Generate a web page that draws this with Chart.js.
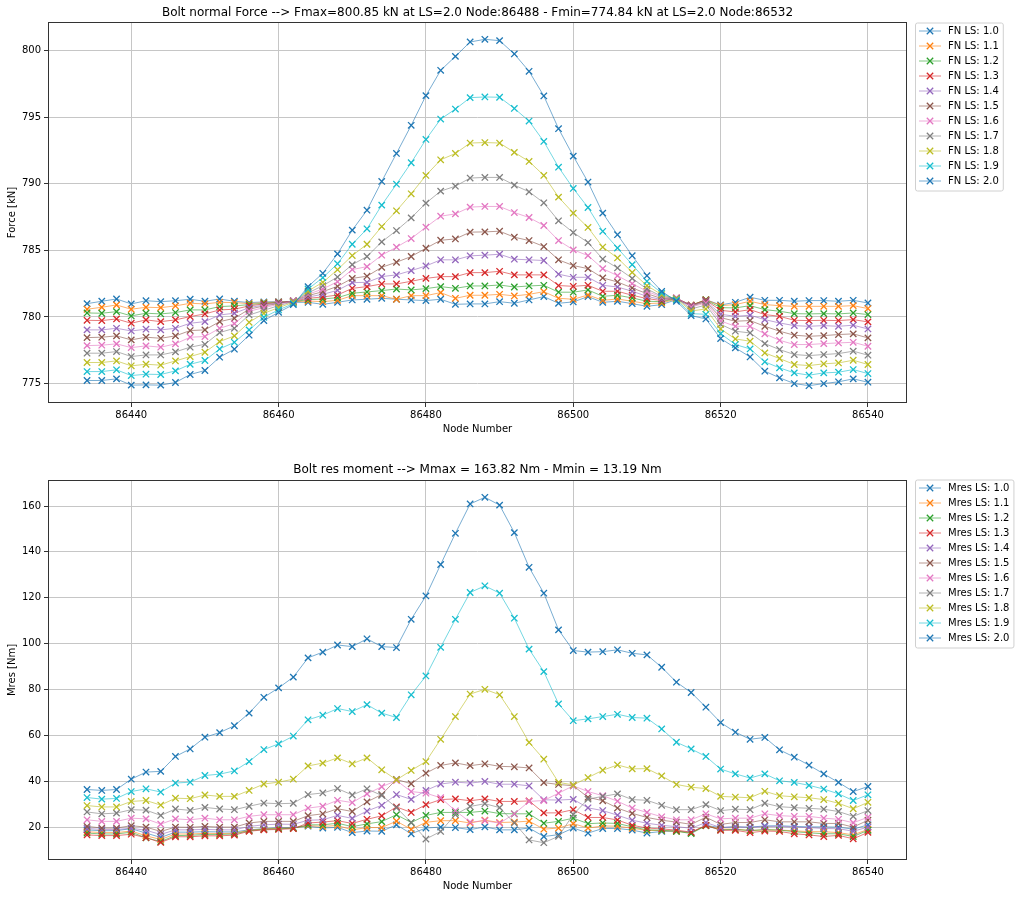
<!DOCTYPE html>
<html>
<head>
<meta charset="utf-8">
<title>Bolt forces</title>
<script src="https://cdn.jsdelivr.net/npm/chart.js@4"></script>
<style>
  html, body { margin: 0; padding: 0; background: #fff; }
  #wrap { position: relative; width: 1024px; height: 899px; }
  canvas { position: absolute; left: 0; }
  #force-chart { top: 0; }
  #moment-chart { top: 450px; }
</style>
</head>
<body>
<div id="wrap">
  <canvas id="force-chart" width="1024" height="450"></canvas>
  <canvas id="moment-chart" width="1024" height="449"></canvas>
</div>
<script>
// ---- data ----
const nodes = [86434, 86436, 86438, 86440, 86442, 86444, 86446, 86448, 86450, 86452, 86454, 86456, 86458, 86460, 86462, 86464, 86466, 86468,
    86470, 86472, 86474, 86476, 86478, 86480, 86482, 86484, 86486, 86488, 86490, 86492, 86494, 86496, 86498, 86500, 86502, 86504,
    86506, 86508, 86510, 86512, 86514, 86516, 86518, 86520, 86522, 86524, 86526, 86528, 86530, 86532, 86534, 86536, 86538, 86540];

const loadSteps = ['1.0', '1.1', '1.2', '1.3', '1.4', '1.5', '1.6', '1.7', '1.8', '1.9', '2.0'];

const xTicks = [86440, 86460, 86480, 86500, 86520, 86540];
const forceTicks = [775, 780, 785, 790, 795, 800];
const momentTicks = [20, 40, 60, 80, 100, 120, 140, 160];

// normal force [kN] per load step
const fn10 = [781.0, 781.18, 781.35, 780.98, 781.22, 781.15, 781.22, 781.33, 781.18, 781.35, 781.18, 781.08, 781.13, 781.15, 781.1, 781.1, 780.95, 781.1,
    781.28, 781.33, 781.4, 781.33, 781.28, 781.23, 781.33, 780.95, 780.98, 780.98, 781.15, 781.03, 781.28, 781.53, 781.03, 781.13, 781.53, 781.1,
    781.18, 781.0, 780.8, 780.93, 781.3, 780.85, 781.3, 780.9, 781.1, 781.48, 781.25, 781.25, 781.18, 781.23, 781.23, 781.18, 781.25, 781.05];
const fn11 = [780.58, 780.73, 780.9, 780.58, 780.73, 780.7, 780.83, 781.03, 780.98, 781.1, 781.08, 781.0, 781.08, 781.13, 781.13, 781.2, 781.15, 781.25,
    781.6, 781.6, 781.6, 781.33, 781.6, 781.6, 781.83, 781.4, 781.63, 781.63, 781.7, 781.58, 781.7, 781.9, 781.4, 781.33, 781.65, 781.25,
    781.35, 781.18, 781.0, 781.05, 781.35, 780.88, 781.3, 780.85, 780.93, 781.18, 780.93, 780.85, 780.8, 780.8, 780.8, 780.8, 780.85, 780.63];
const fn12 = [780.3, 780.28, 780.4, 780.08, 780.28, 780.23, 780.33, 780.53, 780.53, 780.78, 780.83, 780.93, 781.03, 781.1, 781.15, 781.3, 781.35, 781.45,
    781.78, 781.88, 781.98, 782.1, 782.03, 782.13, 782.28, 782.15, 782.33, 782.33, 782.4, 782.25, 782.33, 782.38, 781.86, 781.86, 782.03, 781.55,
    781.63, 781.43, 781.18, 781.15, 781.38, 780.88, 781.28, 780.7, 780.68, 780.85, 780.55, 780.43, 780.25, 780.23, 780.25, 780.23, 780.3, 780.18];
const fn13 = [779.75, 779.73, 779.85, 779.53, 779.78, 779.65, 779.78, 780.03, 780.23, 780.53, 780.58, 780.83, 780.98, 781.08, 781.18, 781.4, 781.5, 781.65,
    782.15, 782.28, 782.48, 782.48, 782.68, 782.9, 783.03, 783.03, 783.33, 783.33, 783.43, 783.16, 783.16, 783.16, 782.36, 782.3, 782.38, 781.93,
    781.93, 781.63, 781.38, 781.23, 781.4, 780.88, 781.25, 780.5, 780.38, 780.55, 780.18, 780.05, 779.75, 779.73, 779.75, 779.73, 779.8, 779.63];
const fn14 = [779.03, 779.03, 779.15, 778.95, 779.08, 779.03, 779.15, 779.53, 779.65, 780.15, 780.28, 780.7, 780.9, 781.05, 781.2, 781.5, 781.7, 782.0,
    782.58, 782.6, 783.03, 783.16, 783.48, 783.83, 784.29, 784.29, 784.59, 784.64, 784.71, 784.34, 784.29, 784.24, 783.21, 782.98, 782.98, 782.38,
    782.25, 781.93, 781.55, 781.3, 781.42, 780.85, 781.2, 780.2, 780.05, 780.13, 779.8, 779.55, 779.35, 779.3, 779.35, 779.3, 779.38, 779.1];
const fn15 = [778.45, 778.48, 778.58, 778.28, 778.48, 778.4, 778.58, 778.98, 779.03, 779.65, 779.9, 780.58, 780.83, 781.0, 781.22, 781.6, 781.9, 782.3,
    782.9, 783.06, 783.73, 784.11, 784.54, 785.16, 785.76, 785.86, 786.37, 786.39, 786.44, 785.99, 785.74, 785.29, 784.29, 783.86, 783.63, 782.93,
    782.63, 782.18, 781.75, 781.38, 781.42, 780.8, 781.15, 779.95, 779.68, 779.73, 779.3, 778.93, 778.63, 778.55, 778.6, 778.68, 778.73, 778.43];
const fn16 = [777.85, 777.88, 777.98, 777.7, 777.83, 777.73, 777.98, 778.48, 778.53, 779.15, 779.5, 780.43, 780.7, 780.95, 781.2, 781.7, 782.1, 782.65,
    783.56, 783.78, 784.64, 785.24, 785.89, 786.74, 787.57, 787.74, 788.25, 788.3, 788.3, 787.84, 787.47, 786.87, 785.74, 785.04, 784.61, 783.63,
    783.1, 782.5, 781.93, 781.48, 781.45, 780.75, 781.05, 779.7, 779.3, 779.3, 778.73, 778.25, 777.93, 777.93, 778.0, 778.05, 778.1, 777.8];
const fn17 = [777.28, 777.28, 777.4, 777.03, 777.15, 777.15, 777.38, 777.73, 777.95, 778.83, 779.15, 780.15, 780.5, 780.85, 781.15, 781.8, 782.35, 783.0,
    783.93, 784.54, 785.64, 786.49, 787.44, 788.55, 789.45, 789.82, 790.43, 790.48, 790.48, 789.9, 789.4, 788.57, 787.22, 786.34, 785.59, 784.35,
    783.68, 782.9, 782.1, 781.55, 781.4, 780.6, 780.9, 779.45, 778.93, 778.8, 778.0, 777.55, 777.18, 777.1, 777.18, 777.25, 777.43, 777.13];
const fn18 = [776.58, 776.58, 776.7, 776.33, 776.45, 776.38, 776.7, 777.03, 777.35, 778.15, 778.58, 779.6, 780.28, 780.7, 781.1, 781.95, 782.6, 783.55,
    784.61, 785.46, 786.79, 787.97, 789.25, 790.63, 791.8, 792.28, 793.06, 793.1, 793.06, 792.36, 791.68, 790.63, 789.0, 787.8, 786.72, 785.25,
    784.43, 783.35, 782.35, 781.68, 781.35, 780.45, 780.6, 779.1, 778.35, 778.18, 777.3, 776.88, 776.43, 776.35, 776.48, 776.55, 776.75, 776.43];
const fn19 = [775.9, 775.9, 776.03, 775.6, 775.7, 775.68, 775.95, 776.45, 776.73, 777.6, 778.1, 779.03, 779.98, 780.53, 781.0, 782.1, 782.95, 784.0,
    785.46, 786.62, 788.4, 789.97, 791.58, 793.33, 794.86, 795.61, 796.47, 796.52, 796.5, 795.66, 794.71, 793.18, 791.25, 789.65, 788.22, 786.43,
    785.18, 783.93, 782.68, 781.8, 781.28, 780.25, 780.2, 778.75, 777.93, 777.6, 776.63, 776.18, 775.8, 775.63, 775.8, 775.85, 776.05, 775.75];
const fn20 = [775.23, 775.23, 775.35, 774.88, 774.9, 774.88, 775.08, 775.68, 775.98, 776.98, 777.58, 778.63, 779.73, 780.35, 780.93, 782.28, 783.28, 784.74,
    786.52, 788.02, 790.18, 792.28, 794.39, 796.62, 798.52, 799.57, 800.65, 800.85, 800.75, 799.75, 798.45, 796.6, 794.14, 792.08, 790.13, 787.8,
    786.18, 784.6, 783.1, 781.93, 781.18, 780.1, 779.85, 778.38, 777.68, 777.0, 775.93, 775.43, 775.0, 774.84, 775.0, 775.13, 775.35, 775.1];

// resultant moment [Nm] per load step
const mr10 = [18.8, 18.4, 18.5, 19.3, 17.4, 15.5, 17.8, 17.8, 18.0, 17.9, 17.9, 18.8, 19.3, 19.8, 19.8, 20.4, 19.6, 19.9,
    17.6, 18.3, 18.2, 21.0, 17.1, 19.6, 20.0, 19.8, 18.9, 20.1, 18.8, 18.8, 19.6, 15.9, 16.7, 19.6, 17.4, 19.4,
    19.4, 18.7, 17.4, 18.1, 18.3, 17.6, 20.7, 19.8, 20.1, 20.0, 20.5, 20.6, 20.3, 20.1, 20.1, 20.0, 19.1, 21.0];
const mr11 = [18.0, 17.6, 17.6, 18.3, 16.2, 14.6, 17.0, 17.0, 17.3, 17.2, 17.3, 18.6, 19.2, 19.5, 19.6, 20.6, 20.3, 20.7,
    18.8, 19.8, 19.8, 22.6, 19.0, 22.1, 22.8, 22.8, 21.8, 23.0, 22.0, 22.2, 22.6, 19.1, 19.6, 21.5, 19.6, 20.5,
    20.4, 19.5, 18.6, 18.5, 18.2, 17.5, 20.7, 19.1, 19.1, 18.5, 18.8, 18.7, 18.4, 18.0, 18.0, 17.6, 16.6, 19.0];
const mr12 = [17.4, 17.0, 17.0, 17.8, 15.3, 13.7, 16.3, 16.4, 16.8, 16.8, 17.0, 18.4, 19.0, 19.3, 19.5, 21.0, 21.0, 21.7,
    20.2, 21.4, 22.4, 25.4, 22.0, 25.1, 26.4, 26.4, 26.4, 27.0, 25.9, 25.8, 25.8, 21.7, 22.5, 23.9, 21.5, 21.8,
    21.6, 20.1, 18.8, 18.6, 18.2, 17.2, 20.6, 18.8, 19.0, 18.5, 18.9, 18.7, 18.0, 17.5, 17.1, 17.1, 15.9, 18.6];
const mr13 = [16.6, 16.3, 16.3, 16.9, 15.4, 13.3, 15.8, 15.8, 16.2, 16.2, 16.5, 18.2, 18.8, 19.0, 19.3, 21.8, 22.2, 22.8,
    21.6, 23.4, 24.9, 28.8, 26.4, 29.8, 32.0, 32.3, 31.5, 32.3, 31.2, 31.2, 31.4, 26.2, 26.2, 27.6, 24.2, 24.2,
    23.1, 20.8, 19.6, 19.2, 18.7, 17.8, 20.8, 18.6, 18.6, 17.6, 18.3, 18.1, 17.1, 16.6, 15.9, 16.4, 14.9, 17.7];
const mr14 = [19.4, 19.0, 19.0, 19.5, 18.6, 16.8, 18.8, 18.8, 19.0, 18.8, 18.8, 20.3, 21.0, 21.3, 21.2, 23.0, 23.2, 25.1,
    23.8, 27.0, 29.5, 34.2, 32.1, 36.0, 38.8, 39.6, 39.2, 39.9, 38.7, 38.7, 38.0, 31.9, 31.8, 32.1, 28.4, 27.2,
    25.2, 23.0, 21.7, 20.8, 20.2, 19.5, 22.0, 19.8, 20.2, 19.8, 20.3, 20.3, 20.0, 19.8, 19.4, 19.3, 18.2, 20.0];
const mr15 = [20.3, 19.6, 19.6, 20.6, 20.0, 18.1, 20.0, 19.9, 20.3, 20.0, 20.0, 21.8, 22.5, 22.5, 22.5, 25.0, 25.8, 28.0,
    26.8, 31.0, 34.2, 40.8, 38.9, 43.5, 46.9, 48.0, 46.8, 47.6, 46.5, 46.3, 45.8, 39.4, 38.6, 38.0, 33.0, 31.5,
    28.3, 26.0, 24.2, 23.0, 22.2, 21.2, 24.3, 21.2, 22.0, 22.0, 23.2, 22.3, 22.3, 22.3, 21.6, 21.6, 20.0, 23.0];
const mr16 = [23.2, 22.5, 22.5, 23.9, 23.6, 21.3, 23.6, 23.2, 23.9, 23.2, 23.2, 24.7, 25.4, 25.4, 25.4, 28.3, 29.1, 31.7,
    30.7, 34.5, 37.6, 40.3, 35.5, 34.8, 32.8, 27.1, 22.2, 22.8, 21.7, 25.8, 31.2, 31.6, 34.8, 38.0, 35.5, 33.7,
    31.3, 28.3, 26.4, 24.5, 23.2, 23.2, 25.8, 23.6, 23.9, 23.9, 25.8, 25.0, 24.7, 24.7, 23.9, 23.4, 21.9, 24.3];
const mr17 = [26.6, 25.8, 26.1, 27.6, 27.4, 25.1, 27.9, 27.3, 28.6, 27.9, 27.6, 29.1, 30.5, 30.2, 30.4, 34.2, 34.9, 36.8,
    34.0, 36.7, 33.8, 28.5, 22.0, 14.8, 18.1, 25.5, 29.0, 30.2, 28.5, 21.8, 14.4, 13.19, 16.0, 25.5, 32.2, 33.4,
    34.5, 32.0, 31.7, 29.5, 27.6, 27.6, 29.8, 27.2, 27.8, 27.6, 30.4, 28.9, 28.5, 28.2, 27.8, 26.8, 24.7, 27.2];
const mr18 = [29.4, 28.8, 28.8, 31.2, 31.6, 29.6, 32.6, 32.4, 34.0, 33.4, 33.4, 36.0, 38.8, 39.6, 40.9, 46.7, 47.9, 50.2,
    47.6, 50.2, 45.0, 40.6, 44.7, 48.6, 58.3, 68.2, 78.0, 80.1, 77.7, 68.2, 56.9, 49.6, 39.5, 38.4, 41.6, 44.8,
    47.1, 45.4, 45.5, 42.3, 38.6, 37.4, 36.8, 33.4, 33.1, 32.8, 35.6, 33.7, 33.2, 32.8, 32.0, 30.4, 28.0, 30.8];
const mr19 = [32.9, 32.2, 32.5, 35.5, 36.7, 35.3, 39.2, 39.6, 42.5, 43.1, 44.5, 48.6, 53.8, 56.3, 59.7, 66.8, 68.8, 71.7,
    70.4, 73.4, 69.7, 67.8, 77.7, 85.9, 98.4, 110.6, 122.3, 125.2, 122.0, 111.1, 97.6, 87.8, 73.7, 66.4, 67.2, 68.2,
    69.2, 67.8, 67.5, 62.8, 57.0, 54.1, 50.8, 45.3, 43.2, 41.4, 43.2, 40.2, 39.5, 38.2, 36.6, 34.5, 31.6, 34.1];
const mr20 = [36.4, 36.0, 36.4, 40.9, 44.0, 44.3, 50.8, 54.1, 59.2, 61.2, 64.2, 69.7, 76.6, 80.7, 85.4, 93.8, 96.3, 99.4,
    98.7, 102.1, 98.7, 98.3, 110.6, 120.8, 134.5, 148.1, 160.9, 163.82, 160.4, 148.4, 133.3, 122.0, 106.0, 97.0, 96.3, 96.5,
    97.3, 95.8, 95.1, 89.7, 83.2, 78.7, 72.3, 65.6, 61.4, 58.3, 59.1, 53.7, 50.5, 47.0, 43.2, 39.5, 35.5, 37.7];

const forceSeries = [fn10, fn11, fn12, fn13, fn14, fn15, fn16, fn17, fn18, fn19, fn20];
const momentSeries = [mr10, mr11, mr12, mr13, mr14, mr15, mr16, mr17, mr18, mr19, mr20];

// ---- styling ----
const FONT = '"DejaVu Sans", "Liberation Sans", sans-serif';
const GRID = '#c6c6c6';
// matplotlib tab10, the 11th series wraps round to the first colour
const COLORS = ['#1f77b4', '#ff7f0e', '#2ca02c', '#d62728', '#9467bd', '#8c564b',
    '#e377c2', '#7f7f7f', '#bcbd22', '#17becf', '#1f77b4'];

Chart.defaults.font.family = FONT;
Chart.defaults.font.size = 10;
Chart.defaults.color = '#000';

function rgba(hex, a) {
    const n = parseInt(hex.slice(1), 16);
    return `rgba(${(n >> 16) & 255}, ${(n >> 8) & 255}, ${n & 255}, ${a})`;
}

// same 5% margins matplotlib puts round the data
function paddedRange(values) {
    const lo = Math.min(...values);
    const hi = Math.max(...values);
    const pad = (hi - lo) * 0.05;
    return [lo - pad, hi + pad];
}

function buildDatasets(prefix, series) {
    return series.map((vals, i) => ({
        label: `${prefix} LS: ${loadSteps[i]}`,
        data: nodes.map((n, k) => ({ x: n, y: vals[k] })),
        borderColor: rgba(COLORS[i], 0.6),
        borderWidth: 1,
        pointStyle: 'crossRot',
        pointRadius: 4.5,
        pointBorderColor: COLORS[i],
        pointBorderWidth: 1.3,
        pointBackgroundColor: 'rgba(0,0,0,0)',
        tension: 0,
        fill: false,
        // later load steps drawn on top, like matplotlib
        order: series.length - 1 - i,
    }));
}

function drawLegend(chart, lg) {
    const ctx = chart.ctx;
    const sets = chart.data.datasets;
    ctx.font = `10px ${FONT}`;
    const textW = Math.max(...sets.map(d => ctx.measureText(d.label).width));
    const w = 33 + textW + 4;
    const h = sets.length * 15 + 3;

    ctx.beginPath();
    ctx.roundRect(lg.left + 0.5, lg.top + 0.5, w, h, 2);
    ctx.fillStyle = 'rgba(255,255,255,0.8)';
    ctx.fill();
    ctx.strokeStyle = '#d0d0d0';
    ctx.lineWidth = 1;
    ctx.stroke();

    sets.forEach((d, i) => {
        const y = lg.top + 8.5 + i * 15;
        const cx = lg.left + 15;
        ctx.strokeStyle = d.borderColor;
        ctx.lineWidth = 1;
        ctx.beginPath();
        ctx.moveTo(lg.left + 4, y);
        ctx.lineTo(lg.left + 26, y);
        ctx.stroke();

        const r = 3.2;
        ctx.strokeStyle = d.pointBorderColor;
        ctx.lineWidth = 1.3;
        ctx.beginPath();
        ctx.moveTo(cx - r, y - r); ctx.lineTo(cx + r, y + r);
        ctx.moveTo(cx - r, y + r); ctx.lineTo(cx + r, y - r);
        ctx.stroke();

        ctx.fillStyle = '#000';
        ctx.textAlign = 'left';
        ctx.textBaseline = 'middle';
        ctx.fillText(d.label, lg.left + 33, y);
    });
}

// axes frame, title and outside legend
const mplDecor = {
    id: 'mplDecor',
    afterDraw(chart, args, opts) {
        const { ctx, chartArea: a } = chart;
        ctx.save();
        ctx.strokeStyle = '#333';
        ctx.lineWidth = 1;
        ctx.strokeRect(Math.round(a.left) + 0.5, Math.round(a.top) + 0.5,
            Math.round(a.right - a.left) - 1, Math.round(a.bottom - a.top) - 1);

        ctx.fillStyle = '#000';
        ctx.font = `12px ${FONT}`;
        ctx.textAlign = 'center';
        ctx.textBaseline = 'middle';
        ctx.fillText(opts.title, (a.left + a.right) / 2, opts.titleY);

        drawLegend(chart, opts.legend);
        ctx.restore();
    }
};

function makeChart(id, cfg) {
    const [xMin, xMax] = paddedRange(nodes);
    const [yMin, yMax] = paddedRange(cfg.series.flat());
    const tickFont = { family: FONT, size: 10 };

    return new Chart(document.getElementById(id), {
        type: 'line',
        data: { datasets: buildDatasets(cfg.prefix, cfg.series) },
        plugins: [mplDecor],
        options: {
            responsive: false,
            animation: false,
            devicePixelRatio: 1,
            layout: { padding: { left: 0, top: cfg.top, right: 117, bottom: 0 } },
            plugins: {
                legend: { display: false },
                tooltip: { enabled: false },
                mplDecor: { title: cfg.title, titleY: cfg.titleY, legend: { left: 915, top: cfg.legendTop } }
            },
            scales: {
                x: {
                    type: 'linear',
                    min: xMin,
                    max: xMax,
                    afterBuildTicks: s => { s.ticks = xTicks.map(v => ({ value: v })); },
                    afterFit: s => { s.height = cfg.xHeight; },
                    border: { display: false },
                    grid: { color: GRID, lineWidth: 1, drawTicks: true, tickLength: 4, tickColor: '#333', tickWidth: 1 },
                    ticks: { font: tickFont, color: '#000', padding: 2, maxRotation: 0, autoSkip: false, callback: v => String(v) },
                    title: { display: true, text: 'Node Number', font: tickFont, color: '#000', padding: { top: 0, bottom: cfg.xTitlePad } }
                },
                y: {
                    min: yMin,
                    max: yMax,
                    afterBuildTicks: s => { s.ticks = cfg.yTicks.map(v => ({ value: v })); },
                    afterFit: s => { s.width = 48; },
                    border: { display: false },
                    grid: { color: GRID, lineWidth: 1, drawTicks: true, tickLength: 4, tickColor: '#333', tickWidth: 1 },
                    ticks: { font: tickFont, color: '#000', padding: 3, autoSkip: false, callback: v => String(v) },
                    title: { display: true, text: cfg.yTitle, font: tickFont, color: '#000', padding: { top: 6, bottom: 0 } }
                }
            }
        }
    });
}

makeChart('force-chart', {
    prefix: 'FN',
    series: forceSeries,
    yTicks: forceTicks,
    yTitle: 'Force [kN]',
    title: 'Bolt normal Force --> Fmax=800.85 kN at LS=2.0 Node:86488 - Fmin=774.84 kN at LS=2.0 Node:86532',
    titleY: 13,
    top: 22,
    xHeight: 47,
    xTitlePad: 15,
    legendTop: 22.5
});

makeChart('moment-chart', {
    prefix: 'Mres',
    series: momentSeries,
    yTicks: momentTicks,
    yTitle: 'Mres [Nm]',
    title: 'Bolt res moment --> Mmax = 163.82 Nm - Mmin = 13.19 Nm',
    titleY: 20,
    top: 30,
    xHeight: 39,
    xTitlePad: 7,
    legendTop: 29.5
});
</script>
</body>
</html>
